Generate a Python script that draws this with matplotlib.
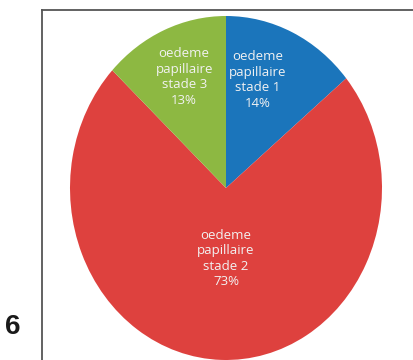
import numpy as np
import matplotlib
matplotlib.use("Agg")
import matplotlib.pyplot as plt
from matplotlib.lines import Line2D

# data
labels = ["oedeme\npapillaire\nstade 1", "oedeme\npapillaire\nstade 2", "oedeme\npapillaire\nstade 3"]
pcts = [14, 73, 13]
colors = ["#1B75BB", "#DE413E", "#8DB842"]
panel = "6"

# label placement (angle in degrees, radial distance) per slice
lab_pos = [(72, 0.66), (-90, 0.41), (112.5, 0.70)]

W, H = 414, 360
fig = plt.figure(figsize=(W / 100, H / 100), dpi=100)

# ellipse: center (226,188) px, rx 156, ry 172
ax = fig.add_axes([70 / W, (H - 360) / H, 312 / W, 344 / H])
wedges, _ = ax.pie(pcts, colors=colors, startangle=90, counterclock=False,
                   wedgeprops=dict(linewidth=0), radius=1)
ax.set_aspect("auto")
ax.set_xlim(-1, 1)
ax.set_ylim(-1, 1)
ax.axis("off")

for lab, p, (ang, d) in zip(labels, pcts, lab_pos):
    a = np.deg2rad(ang)
    ax.text(d * np.cos(a), d * np.sin(a), "%s\n%d%%" % (lab, p),
            ha="center", va="center", color="#F2F2F2", fontsize=9.5,
            family="Open Sans", linespacing=1.25)

# frame
fig.add_artist(Line2D([42 / W, 42 / W], [-0.1, (H - 10) / H], color="#555555", lw=1.3,
                      transform=fig.transFigure))
fig.add_artist(Line2D([42 / W, 1.1], [(H - 10) / H, (H - 10) / H], color="#555555", lw=1.3,
                      transform=fig.transFigure))

fig.text(13 / W, (H - 327) / H, panel, ha="center", va="center", fontsize=20,
         fontweight="bold", family="Liberation Sans", color="#1A1A1A")

plt.savefig("out.png", dpi=100)
